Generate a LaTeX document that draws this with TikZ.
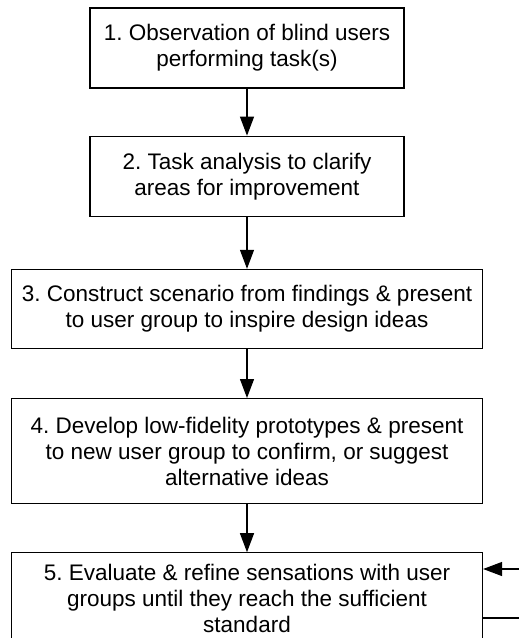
\documentclass[tikz,border=0pt]{standalone}
\usepackage{fontspec}
\setmainfont{Liberation Sans}
\usetikzlibrary{positioning}
\usetikzlibrary{arrows.meta}
\frenchspacing

\begin{document}
\begin{tikzpicture}
[
x=1pt, y=-1pt,
>={Triangle[length=19pt,width=14pt]},
box-a/.style={rectangle,draw,line width=1.2pt,align=center,inner sep=0pt,
              font=\fontsize{22.5}{26}\selectfont},
box-s/.style={box-a,minimum width=314pt},
box-w/.style={box-a,minimum width=471pt},
line-a/.style={line width=1.2pt},
]
\useasboundingbox (0,0) rectangle (519,638);
\clip (0,0) rectangle (519,638);
\node (s1) [box-s, minimum height=80pt] at (247,48)  {1. Observation of blind users\\performing task(s)};
\node (s2) [box-s, minimum height=80pt, below = 47pt of s1] {2. Task analysis to clarify\\areas for improvement};
\node (s3) [box-w, minimum height=79pt, below = 52pt of s2] {3. Construct scenario from findings \& present\\to user group to inspire design ideas};
\node (s4) [box-w, minimum height=105pt, below = 49pt of s3] {4. Develop low-fidelity prototypes \& present\\to new user group to confirm, or suggest\\alternative ideas};
\node (s5) [box-w, minimum height=92pt, below = 48pt of s4] {5. Evaluate \& refine sensations with user\\groups until they reach the sufficient\\standard};
\coordinate (f1) at (519,569);
\coordinate (f2) at (519,618);
\draw [->, line-a] (s1) -- (s2);
\draw [->, line-a] (s2) -- (s3);
\draw [->, line-a] (s3) -- (s4);
\draw [->, line-a] (s4) -- (s5);
\draw [->, line-a] (f1) -- (f1 -| s5.east);
\draw [line-a] (f2) -- (f2 -| s5.east);
\end{tikzpicture}
\end{document}
